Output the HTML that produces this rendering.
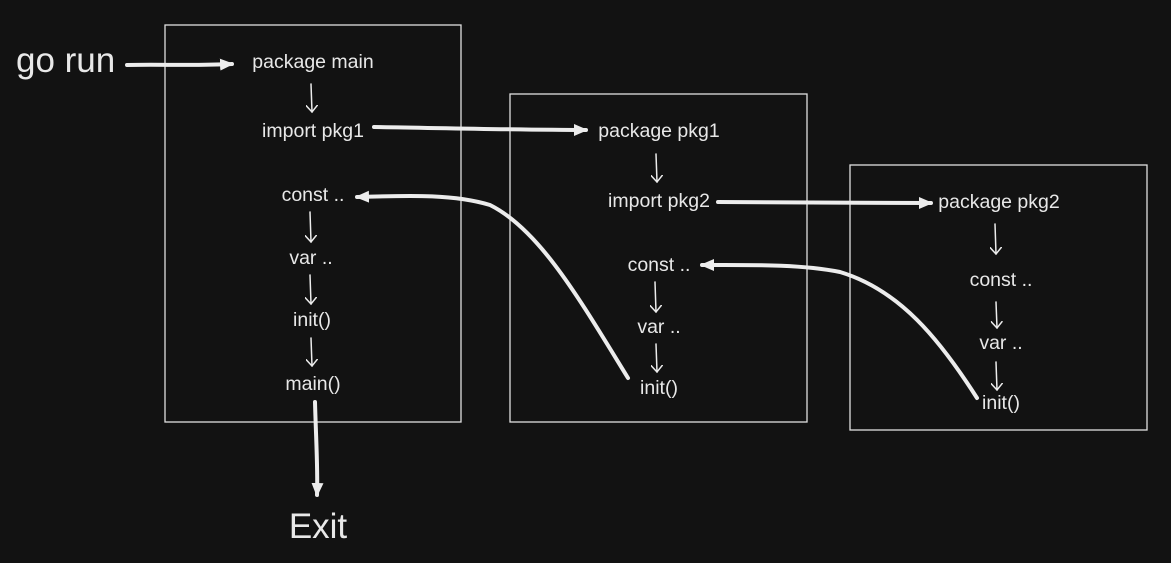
<!DOCTYPE html>
<html><head><meta charset="utf-8"><style>
html,body{margin:0;padding:0;background:#121212;}
svg{display:block}
text{font-family:"Liberation Sans",sans-serif;fill:#e8e8e8;}
</style></head><body>
<svg width="1171" height="563" viewBox="0 0 1171 563" xmlns="http://www.w3.org/2000/svg">
<rect width="1171" height="563" fill="#121212"/>
<defs>
<marker id="ah" markerWidth="16" markerHeight="16" refX="12" refY="7" orient="auto" markerUnits="userSpaceOnUse">
<path d="M0,1 L14,7 L0,13 Z" fill="#ececec"/>
</marker>
<marker id="sh" markerWidth="10" markerHeight="12" refX="7" refY="6" orient="auto" markerUnits="userSpaceOnUse">
<path d="M0,0 L7,6 L0,12" fill="none" stroke="#ececec" stroke-width="1.5"/>
</marker>
</defs>
<g fill="none" stroke="#e0e0e0" stroke-width="1.3">
<rect x="165" y="25" width="296" height="397"/>
<rect x="510" y="94" width="297" height="328"/>
<rect x="850" y="165" width="297" height="265"/>
</g>
<g font-size="19.5" text-anchor="middle">
<text x="313" y="68">package main</text>
<text x="313" y="137">import pkg1</text>
<text x="313" y="201">const ..</text>
<text x="311" y="264">var ..</text>
<text x="312" y="326">init()</text>
<text x="313" y="390">main()</text>
<text x="659" y="137">package pkg1</text>
<text x="659" y="207">import pkg2</text>
<text x="659" y="271">const ..</text>
<text x="659" y="333">var ..</text>
<text x="659" y="394">init()</text>
<text x="999" y="208">package pkg2</text>
<text x="1001" y="286">const ..</text>
<text x="1001" y="349">var ..</text>
<text x="1001" y="409">init()</text>
</g>
<text x="16" y="72" font-size="35">go run</text>
<text x="318" y="538" font-size="35" text-anchor="middle">Exit</text>
<g stroke="#ececec" fill="none" stroke-linecap="round">
<path d="M127,65 C160,64 190,66 232,64" stroke-width="4" marker-end="url(#ah)"/>
<path d="M374,127 C440,128 520,130 586,130" stroke-width="4" marker-end="url(#ah)"/>
<path d="M718,202 C790,202 860,203 931,203" stroke-width="4" marker-end="url(#ah)"/>
<path d="M315,402 C316,440 318,470 317,495" stroke-width="4" marker-end="url(#ah)"/>
<path d="M628,378 C580,300 540,230 490,205 C450,193 400,196 357,197" stroke-width="4" marker-end="url(#ah)"/>
<path d="M977,398 C940,340 900,290 840,272 C800,264 750,265 702,265" stroke-width="4" marker-end="url(#ah)"/>
<g stroke-width="1.5">
<path d="M311,84 L312,112" marker-end="url(#sh)"/>
<path d="M310,212 L311,242" marker-end="url(#sh)"/>
<path d="M310,275 L311,304" marker-end="url(#sh)"/>
<path d="M311,338 L312,366" marker-end="url(#sh)"/>
<path d="M656,154 L657,182" marker-end="url(#sh)"/>
<path d="M655,282 L656,312" marker-end="url(#sh)"/>
<path d="M656,344 L657,372" marker-end="url(#sh)"/>
<path d="M995,224 L996,254" marker-end="url(#sh)"/>
<path d="M996,302 L997,328" marker-end="url(#sh)"/>
<path d="M996,362 L997,390" marker-end="url(#sh)"/>
</g>
</g>
</svg>
</body></html>
